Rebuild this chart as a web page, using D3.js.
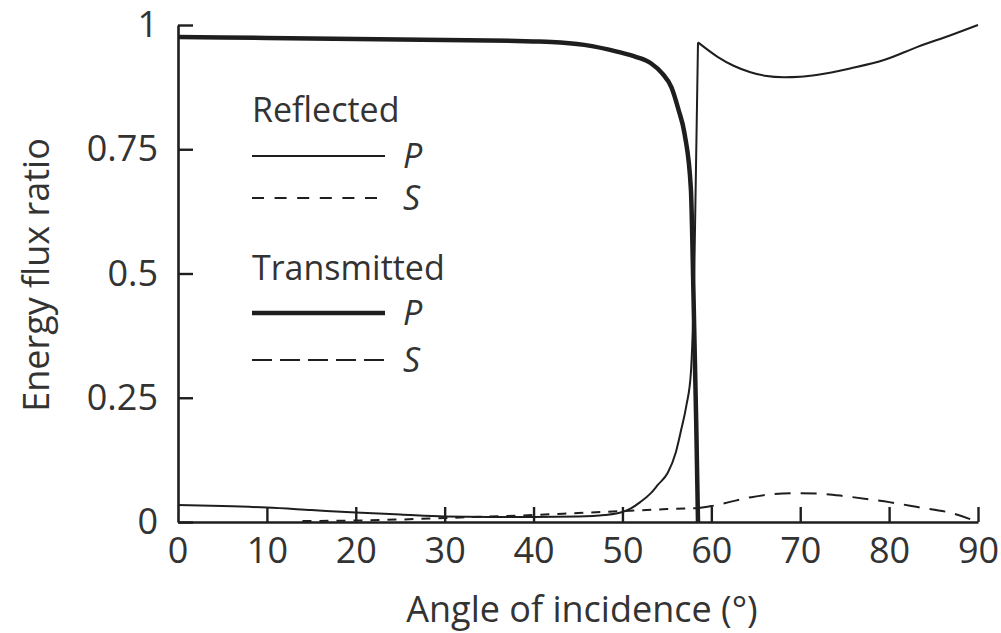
<!DOCTYPE html>
<html>
<head>
<meta charset="utf-8">
<script src="https://cdn.jsdelivr.net/npm/d3@7"></script>
<style>
  html, body { margin: 0; padding: 0; background: #fff; }
  svg { display: block; }
  text { font-family: "Open Sans", "Noto Sans", sans-serif; fill: #333; }
</style>
</head>
<body>
<svg id="chart" width="1001" height="633"></svg>
<script>
// ---- data (angle of incidence in degrees, energy flux ratio) ----
const xTicks = [10, 20, 30, 40, 50, 60, 70, 80, 90];
const xTickLabels = ["10", "20", "30", "40", "50", "60", "70", "80", "90"];
const yTicks = [0, 0.25, 0.5, 0.75, 1];
const yTickLabels = ["0", "0.25", "0.5", "0.75", "1"];
const criticalAngle = 58.5;

const reflectedP = [
  [0, 0.034], [5, 0.032], [10, 0.029], [15, 0.024], [20, 0.019], [25, 0.015],
  [30, 0.011], [35, 0.010], [40, 0.010], [45, 0.011], [48, 0.014], [50, 0.020],
  [51, 0.028], [52, 0.040], [53.2, 0.058], [54, 0.075], [55.1, 0.099], [56, 0.140],
  [56.6, 0.185], [57.2, 0.235], [57.7, 0.300], [58.1, 0.520], [58.5, 0.965],
  [60.7, 0.936], [62.5, 0.918], [64.4, 0.905], [66, 0.898], [68.2, 0.895],
  [70, 0.896], [72, 0.900], [75.7, 0.913], [79.5, 0.930], [83.2, 0.956],
  [87, 0.980], [90, 1.000]
];
const reflectedS = [
  [14, 0.002], [20, 0.003], [25, 0.005], [30, 0.008], [35, 0.011], [40, 0.014],
  [45, 0.018], [50, 0.022], [55, 0.026], [58.5, 0.028]
];
const transmittedP = [
  [0, 0.976], [10, 0.974], [20, 0.972], [30, 0.970], [35, 0.969], [40, 0.967],
  [42, 0.966], [45.7, 0.960], [49.5, 0.946], [51.5, 0.936], [53.2, 0.923],
  [54.5, 0.902], [55.5, 0.875], [56.3, 0.830], [57, 0.780], [57.7, 0.670],
  [58, 0.450], [58.3, 0.200], [58.5, 0.000]
];
const transmittedS = [
  [58.5, 0.028], [60, 0.032], [62, 0.040], [64.5, 0.050], [67, 0.056], [70, 0.058],
  [73, 0.056], [75, 0.052], [78, 0.045], [80, 0.040], [83.2, 0.030], [87, 0.018],
  [90, 0.000]
];

// ---- chart ----
const ink = "#1e1e1e";
const svg = d3.select("#chart");
const x = d3.scaleLinear().domain([0, 90]).range([178, 978]);
const y = d3.scaleLinear().domain([0, 1]).range([522, 25]);

const line = d3.line().x(d => x(d[0])).y(d => y(d[1])).curve(d3.curveMonotoneX);

function drawSeries(data, width, dash) {
  svg.append("path").datum(data)
    .attr("d", line)
    .attr("fill", "none")
    .attr("stroke", ink)
    .attr("stroke-width", width)
    .attr("stroke-linejoin", "round")
    .attr("stroke-dasharray", dash || null);
}

// axes
const xAxis = d3.axisBottom(x).tickValues(xTicks)
  .tickFormat((d, i) => xTickLabels[i]).tickSizeInner(-15).tickSizeOuter(0).tickPadding(15);
const yAxis = d3.axisLeft(y).tickValues(yTicks)
  .tickFormat((d, i) => yTickLabels[i]).tickSizeInner(-15).tickSizeOuter(0).tickPadding(20);

const gx = svg.append("g").attr("transform", `translate(0,${y(0)})`).call(xAxis);
const gy = svg.append("g").attr("transform", `translate(${x(0)},0)`).call(yAxis);
[gx, gy].forEach(g => {
  g.select(".domain").attr("stroke", ink).attr("stroke-width", 2.6);
  g.selectAll(".tick line").attr("stroke", ink).attr("stroke-width", 2.4);
  g.selectAll(".tick text").attr("font-size", 36).attr("fill", "#333")
    .attr("font-family", '"Open Sans", "Noto Sans", sans-serif');
});
// the x-axis also labels 0 at the origin
gx.append("text").attr("x", x(0)).attr("y", 15).attr("dy", "0.71em")
  .attr("text-anchor", "middle").attr("font-size", 36).attr("fill", "#333")
  .attr("font-family", '"Open Sans", "Noto Sans", sans-serif').text("0");

// series
drawSeries(reflectedP.filter(d => d[0] <= criticalAngle), 2, null);
drawSeries(reflectedP.filter(d => d[0] >= criticalAngle), 2, null);
drawSeries(reflectedS, 2, "9,8");
drawSeries(transmittedS, 2, "16,10");
drawSeries(transmittedP, 4.5, null);

// axis titles
svg.append("text").attr("x", 582).attr("y", 622).attr("text-anchor", "middle")
  .attr("font-size", 36).text("Angle of incidence (°)");
svg.append("text").attr("transform", "translate(49,275) rotate(-90)")
  .attr("text-anchor", "middle").attr("font-size", 36).text("Energy flux ratio");

// legend
const lgX0 = 252, lgX1 = 385, lgTxt = 403;
const legend = [
  { title: "Reflected", titleY: 122 },
  { label: "P", y: 156, width: 2, dash: null },
  { label: "S", y: 198, width: 2, dash: "12,10.6" },
  { title: "Transmitted", titleY: 280 },
  { label: "P", y: 313, width: 4.5, dash: null },
  { label: "S", y: 360, width: 2, dash: "20,8" }
];
legend.forEach(l => {
  if (l.title) {
    svg.append("text").attr("x", lgX0).attr("y", l.titleY).attr("font-size", 34).text(l.title);
  } else {
    svg.append("line").attr("x1", lgX0).attr("x2", lgX1).attr("y1", l.y).attr("y2", l.y)
      .attr("stroke", ink).attr("stroke-width", l.width).attr("stroke-dasharray", l.dash);
    svg.append("text").attr("x", lgTxt).attr("y", l.y + 12).attr("font-size", 34)
      .attr("font-style", "italic").text(l.label);
  }
});
</script>
</body>
</html>
